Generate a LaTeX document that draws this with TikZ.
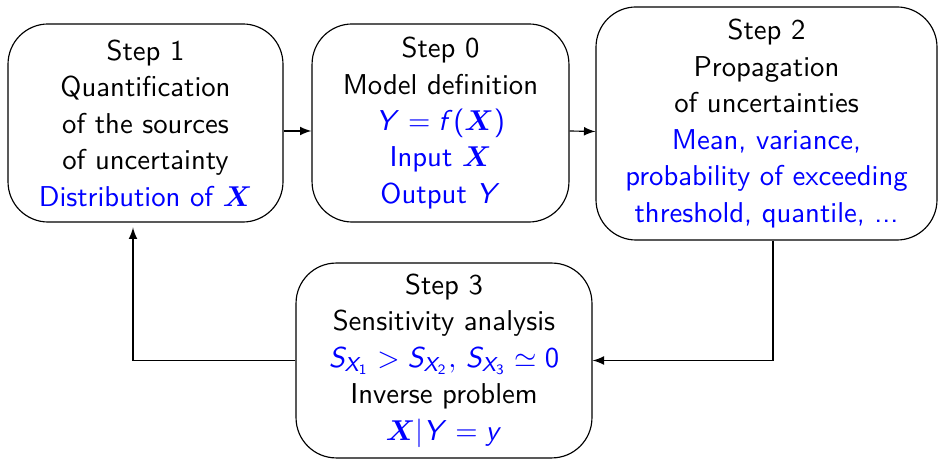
\documentclass[tikz,border=0pt]{standalone}
\usetikzlibrary{arrows,calc}
\renewcommand{\familydefault}{\sfdefault}
% sans serif maths, bold serif vectors
\DeclareSymbolFont{operators}{OT1}{cmss}{m}{n}
\DeclareSymbolFont{sfletters}{OT1}{cmss}{m}{sl}
\DeclareMathSymbol{S}{\mathalpha}{sfletters}{`S}
\DeclareMathSymbol{X}{\mathalpha}{sfletters}{`X}
\DeclareMathSymbol{Y}{\mathalpha}{sfletters}{`Y}
\DeclareMathSymbol{f}{\mathalpha}{sfletters}{`f}
\DeclareMathSymbol{y}{\mathalpha}{sfletters}{`y}
\DeclareMathAlphabet{\mathbfit}{OML}{cmm}{b}{it}
\newcommand{\bX}{\mathbfit{X}}
\newcommand{\blue}[1]{\textcolor{blue}{#1}}

\begin{document}
\begin{tikzpicture}[x=0.3484pt,y=0.3484pt,yscale=-1,
  stepbox/.style={draw, rounded corners=14pt, align=center, inner sep=0pt,
    font=\fontsize{10}{12.7}\selectfont},
  arr/.style={-latex}]
\useasboundingbox (0,0) rectangle (939,461);

% the four steps
\node[stepbox, minimum width=95.8pt, minimum height=69pt] (step1) at (145.5,123)
  {Step 1\\Quantification\\of the sources\\of uncertainty\\\blue{Distribution of $\bX$}};
\node[stepbox, minimum width=89.5pt, minimum height=69pt] (step0) at (440.5,123)
  {Step 0\\Model definition\\\blue{$Y=f(\bX)$}\\\blue{Input $\bX$}\\\blue{Output $Y$}};
\node[stepbox, minimum width=118.8pt, minimum height=81.2pt] (step2) at (766.5,123.5)
  {Step 2\\Propagation\\of uncertainties\\\blue{Mean, variance,}\\\blue{probability of exceeding}\\\blue{threshold, quantile, ...}};
\node[stepbox, minimum width=103.1pt, minimum height=67.9pt] (step3) at (444,360.5)
  {Step 3\\Sensitivity analysis\\\blue{$S_{X_1}>S_{X_2},\,S_{X_3}\simeq0$}\\Inverse problem\\\blue{$\bX|Y=y$}};

% links
\draw[arr] ($(step1.east)+(0,8)$) -- ($(step0.west)+(0,8)$);
\draw[arr] ($(step0.east)+(0,8)$) -- ($(step2.west)+(0,8)$);
\draw[arr] ($(step2.south)+(6.5,0)$) |- (step3.east);
\draw[arr, shorten >=1.7pt] (step3.west) -| ($(step1.south)+(-12.5,0)$);

\end{tikzpicture}
\end{document}
